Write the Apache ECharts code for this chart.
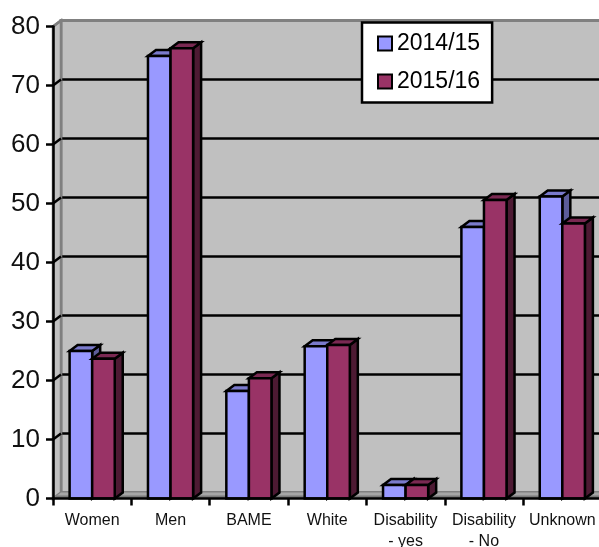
<!DOCTYPE html>
<html>
<head>
<meta charset="utf-8">
<style>html,body{margin:0;padding:0;background:#fff;overflow:hidden}#chart{width:599px;height:547px}</style>
<script src="https://cdn.jsdelivr.net/npm/echarts@6/dist/echarts.min.js"></script>
</head>
<body>
<div id="chart"></div>
<script>
const categories = ['Women', 'Men', 'BAME', 'White', 'Disability\n- yes', 'Disability\n- No', 'Unknown'];
const values1415 = [25, 75, 18.2, 25.8, 2.3, 46, 51.2];
const values1516 = [23.7, 76.3, 20.4, 26, 2.3, 50.6, 46.6];
const yTicks = [0, 10, 20, 30, 40, 50, 60, 70, 80];

// Pseudo-3D depth of the plot box, in pixels
const DX = 8, DY = -6;
const BLACK = '#000';
const STROKE = 2.5;

function boxItem(seriesIndex, colors) {
  return function (params, api) {
    const cat = api.value(0);
    const band = api.size([1, 0])[0];
    const w = band * 0.288;
    const center = api.coord([cat, 0])[0];
    const x0 = center + (seriesIndex === 0 ? -w : 0);
    const x1 = x0 + w;
    const yb = api.coord([cat, 0])[1];
    const yt = api.coord([cat, api.value(1)])[1];
    const line = { stroke: BLACK, lineWidth: STROKE, lineJoin: 'miter' };
    return {
      type: 'group',
      children: [
        { type: 'polygon', shape: { points: [[x1, yt], [x1 + DX, yt + DY], [x1 + DX, yb + DY], [x1, yb]] },
          style: Object.assign({ fill: colors.side }, line) },
        { type: 'polygon', shape: { points: [[x0, yt], [x0 + DX, yt + DY], [x1 + DX, yt + DY], [x1, yt]] },
          style: Object.assign({ fill: colors.top }, line) },
        { type: 'rect', shape: { x: x0, y: yt, width: w, height: yb - yt },
          style: Object.assign({ fill: colors.front }, line) }
      ]
    };
  };
}

// Side wall, two-tone floor and the short connectors from the ticks onto the back wall
function shellItem(params, api) {
  const v = api.value(0);
  const band = api.size([1, 0])[0];
  const p = api.coord([0, v]);
  p[0] -= band / 2;
  const children = [];
  if (params.dataIndex === 0) {
    const top = api.coord([0, 80]);
    const farX = api.coord([6, 0])[0] + band / 2;
    children.push(
      { type: 'polygon', shape: { points: [[p[0], top[1]], [p[0] + DX, top[1] + DY], [p[0] + DX, p[1] + DY], [p[0], p[1]]] },
        style: { fill: '#c0c0c0', stroke: '#808080', lineWidth: 2.5 } },
      { type: 'polygon', shape: { points: [[p[0], p[1]], [p[0] + DX, p[1] + DY], [farX + DX, p[1] + DY], [farX, p[1]]] },
        style: { fill: '#a6a6a6' } },
      { type: 'polygon', shape: { points: [[p[0], p[1]], [p[0] + DX / 2, p[1] + DY / 2], [farX + DX / 2, p[1] + DY / 2], [farX, p[1]]] },
        style: { fill: '#7a7a7a' } }
    );
  } else {
    children.push({ type: 'line', shape: { x1: p[0], y1: p[1], x2: p[0] + DX, y2: p[1] + DY },
      style: { stroke: v === 80 ? '#808080' : BLACK, lineWidth: STROKE } });
  }
  return { type: 'group', children };
}

const chart = echarts.init(document.getElementById('chart'), null, { renderer: 'canvas' });
chart.setOption({
  animation: false,
  backgroundColor: '#fff',
  textStyle: { fontFamily: 'Liberation Sans' },
  grid: [
    { left: 53, top: 26.5, width: 548.5, height: 472, outerBoundsMode: 'none' },
    { left: 61, top: 20.5, width: 548.5, height: 472, outerBoundsMode: 'none', show: true, backgroundColor: '#c0c0c0', borderColor: '#808080', borderWidth: 3, z: 0 }
  ],
  legend: {
    data: ['2014/15', '2015/16'], orient: 'vertical', left: 362, top: 22.5,
    backgroundColor: '#fff', borderColor: BLACK, borderWidth: 2.5, borderRadius: 0,
    padding: [9.5, 12, 9.5, 15], itemWidth: 14, itemHeight: 14, itemGap: 15,
    icon: 'rect', textStyle: { fontSize: 23, color: BLACK }, z: 10
  },
  xAxis: [
    { type: 'category', gridIndex: 0, data: categories, z: 5,
      axisLine: { lineStyle: { color: BLACK, width: STROKE } },
      axisTick: { show: true, alignWithLabel: false, length: 7, lineStyle: { color: BLACK, width: STROKE } },
      axisLabel: { interval: 0, color: '#111', fontSize: 16, lineHeight: 21, margin: 12, hideOverlap: false } },
    { type: 'value', gridIndex: 1, min: 0, max: 7, show: false }
  ],
  yAxis: [
    { type: 'value', gridIndex: 0, min: 0, max: 80, interval: 10, z: 5,
      axisLine: { show: true, lineStyle: { color: BLACK, width: STROKE } },
      axisTick: { show: true, length: 7, lineStyle: { color: BLACK, width: STROKE } },
      splitLine: { show: false },
      axisLabel: { color: '#111', fontSize: 26, margin: 13, padding: [4, 0, 0, 0] } },
    { type: 'value', gridIndex: 1, min: 0, max: 80, interval: 10,
      axisLine: { show: false }, axisTick: { show: false }, axisLabel: { show: false },
      splitLine: { show: true, showMinLine: false, showMaxLine: false, lineStyle: { color: BLACK, width: STROKE } } }
  ],
  series: [
    { type: 'custom', name: 'shell', xAxisIndex: 0, yAxisIndex: 0, data: yTicks.map(v => [v]), silent: true,
      renderItem: shellItem, encode: { y: 0 }, clip: false, z: 1 },
    { type: 'custom', name: '2014/15', xAxisIndex: 0, yAxisIndex: 0, clip: false, z: 2,
      itemStyle: { color: '#9999ff', borderColor: BLACK, borderWidth: STROKE },
      data: values1415.map((v, i) => [i, v]),
      renderItem: boxItem(0, { front: '#9999ff', top: '#7a7acc', side: '#5c5c99' }) },
    { type: 'custom', name: '2015/16', xAxisIndex: 0, yAxisIndex: 0, clip: false, z: 3,
      itemStyle: { color: '#993366', borderColor: BLACK, borderWidth: STROKE },
      data: values1516.map((v, i) => [i, v]),
      renderItem: boxItem(1, { front: '#993366', top: '#7a2952', side: '#4d1a33' }) }
  ]
});
</script>
</body>
</html>
